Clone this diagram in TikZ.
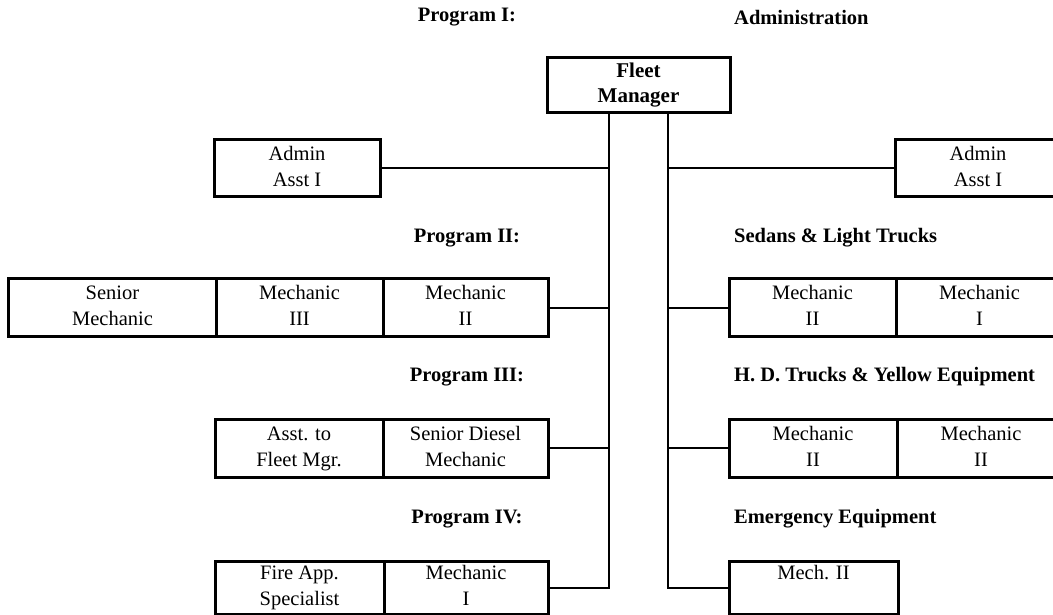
\documentclass[tikz,border=0pt]{standalone}
\usepackage{fontspec}
\setmainfont{Liberation Serif}
\begin{document}
\begin{tikzpicture}[x=1bp, y=-1bp,
  every node/.style={font=\fontsize{20.5bp}{26bp}\selectfont},
  unit/.style={draw, line width=3bp, align=center, inner sep=0pt,
               minimum height=57bp},
  head/.style={font=\fontsize{20.5bp}{26bp}\selectfont\bfseries, inner sep=0pt},
  link/.style={line width=2bp}]
\useasboundingbox (0,0) rectangle (1053,615);

% section headings
\node[head] (p1) at (467,17) {Program I:};
\node[head, anchor=west] (h1) at (734,17) {Administration};
\node[head] (p2) at (467,238) {Program II:};
\node[head, anchor=west] (h2) at (734,238) {Sedans \& Light Trucks};
\node[head] (p3) at (467,377) {Program III:};
\node[head, anchor=west] (h3) at (734,377) {H. D. Trucks \& Yellow Equipment};
\node[head] (p4) at (467,519) {Program IV:};
\node[head, anchor=west] (h4) at (734,519) {Emergency Equipment};

% top position
\node[unit, minimum width=183bp, minimum height=55bp,
      font=\fontsize{21bp}{25bp}\selectfont\bfseries] (fleet) at (638.5,85.5) {\strut Fleet\\\strut Manager};

% administration
\node[unit, minimum width=166bp] (adminL) at (297,168.5) {\strut Admin\\\strut Asst I};
\node[unit, minimum width=166bp] (adminR) at (978,168.5) {\strut Admin\\\strut Asst I};

% sedans and light trucks
\node[unit, minimum width=207bp] (senior) at (112.5,307.5) {\strut Senior\\\strut Mechanic};
\node[unit, minimum width=167bp] (mechIIIa) at (299.5,307.5) {\strut Mechanic\\\strut III};
\node[unit, minimum width=165bp] (mechIIa) at (465.5,307.5) {\strut Mechanic\\\strut II};
\node[unit, minimum width=167bp] (mechIIb) at (812.5,307.5) {\strut Mechanic\\\strut II};
\node[unit, minimum width=167bp] (mechIa) at (979.5,307.5) {\strut Mechanic\\\strut I};

% heavy duty trucks and yellow equipment
\node[unit, minimum width=168bp, minimum height=58bp] (asst) at (299,448) {\strut Asst. to\\\strut Fleet Mgr.};
\node[unit, minimum width=165bp, minimum height=58bp] (diesel) at (465.5,448) {\strut Senior Diesel\\\strut Mechanic};
\node[unit, minimum width=168bp, minimum height=58bp] (mechIIc) at (813,448) {\strut Mechanic\\\strut II};
\node[unit, minimum width=168bp, minimum height=58bp] (mechIId) at (981,448) {\strut Mechanic\\\strut II};

% emergency equipment
\node[unit, minimum width=169bp, minimum height=53bp] (fire) at (299.5,587.5) {\strut Fire App.\\\strut Specialist};
\node[unit, minimum width=164bp, minimum height=53bp] (mechIb) at (466,587.5) {\strut Mechanic\\\strut I};
\node[unit, minimum width=169bp, minimum height=53bp] (mechIIe) at (813.5,587.5) {\strut Mech. II\\\strut};

% spines below the manager
\coordinate (lspine) at (609,0);
\coordinate (rspine) at (668,0);

\draw[link] (fleet.south -| lspine) |- (mechIb.east);
\draw[link] (fleet.south -| rspine) |- (mechIIe.west);

\draw[link] (adminL.east) -- (adminL.east -| lspine);
\draw[link] (adminR.west -| rspine) -- (adminR.west);
\draw[link] (mechIIa.east) -- (mechIIa.east -| lspine);
\draw[link] (mechIIb.west -| rspine) -- (mechIIb.west);
\draw[link] (diesel.east) -- (diesel.east -| lspine);
\draw[link] (mechIIc.west -| rspine) -- (mechIIc.west);
\end{tikzpicture}
\end{document}
